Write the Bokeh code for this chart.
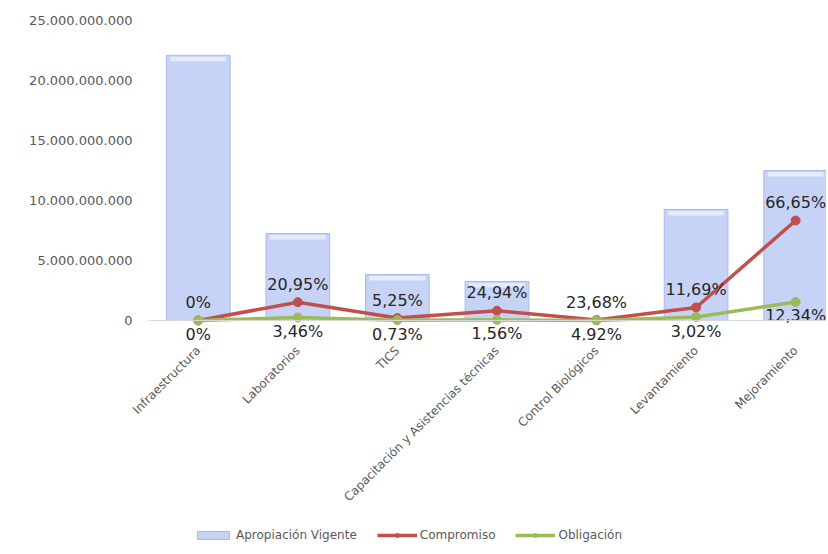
import numpy as np
from bokeh.plotting import figure
from bokeh.layouts import column
from bokeh.models import (Range1d, FixedTicker, CustomJSTickFormatter, Span,
                          Legend, LegendItem, ColumnDataSource)
from bokeh.embed import file_html
from bokeh.resources import INLINE

categories = ["Infraestructura", "Laboratorios", "TICS",
              "Capacitación y Asistencias técnicas", "Control Biológicos",
              "Levantamiento", "Mejoramiento"]
apropiacion = [22.1e9, 7.25e9, 3.83e9, 3.25e9, 0.15e9, 9.25e9, 12.5e9]
compromiso = [0.0, 1.52e9, 0.20e9, 0.81e9, 0.036e9, 1.08e9, 8.33e9]
obligacion = [0.0, 0.25e9, 0.028e9, 0.051e9, 0.007e9, 0.28e9, 1.54e9]
compromiso_pct = ["0%", "20,95%", "5,25%", "24,94%", "23,68%", "11,69%", "66,65%"]
obligacion_pct = ["0%", "3,46%", "0,73%", "1,56%", "4,92%", "3,02%", "12,34%"]
series_names = ["Apropiación Vigente", "Compromiso", "Obligación"]
y_ticks = [0, 5e9, 10e9, 15e9, 20e9, 25e9]

FONT = "DejaVu Sans"
BAR_FILL = "#C6D3F7"
BAR_LINE = "#AABAEA"
RED = "#C0504D"
GREEN = "#9BBB59"

xs = list(range(len(categories)))
apro = np.array(apropiacion)

src = ColumnDataSource(dict(x=xs, apro=apropiacion, comp=compromiso, obl=obligacion,
                            cpct=compromiso_pct, opct=obligacion_pct,
                            hl_top=np.maximum(apro - 0.12e9, 0),
                            hl_bot=np.maximum(apro - 0.5e9, 0)))

p = figure(width=826, height=524, output_backend="svg", toolbar_location=None,
           x_range=Range1d(-0.5, 6.31), y_range=Range1d(-1.67e9, 25e9),
           min_border_left=148, min_border_right=0, min_border_top=20,
           min_border_bottom=184)
p.outline_line_color = None
p.xgrid.visible = False
p.ygrid.visible = False

# x axis
p.xaxis.ticker = FixedTicker(ticks=xs)
p.xaxis.major_label_overrides = {i: c for i, c in zip(xs, categories)}
p.xaxis.major_label_orientation = np.pi / 4
p.xaxis.axis_line_color = None
p.xaxis.major_tick_line_color = None
p.xaxis.minor_tick_line_color = None
p.xaxis.major_label_standoff = 2
p.xaxis.major_label_text_font = FONT
p.xaxis.major_label_text_font_size = "12px"
p.xaxis.major_label_text_color = "#595959"

# y axis
p.yaxis.ticker = FixedTicker(ticks=y_ticks)
p.yaxis.formatter = CustomJSTickFormatter(
    code="return Math.round(tick).toString().replace(/\\B(?=(\\d{3})+(?!\\d))/g, '.');")
p.yaxis.axis_line_color = None
p.yaxis.major_tick_line_color = None
p.yaxis.minor_tick_line_color = None
p.yaxis.major_label_standoff = 10
p.yaxis.major_label_text_font = FONT
p.yaxis.major_label_text_font_size = "13px"
p.yaxis.major_label_text_color = "#595959"

# zero line
p.add_layout(Span(location=0, dimension="width", line_color="#D9D9D9", line_width=1))

p.vbar(x="x", top="apro", width=0.64, source=src,
       fill_color=BAR_FILL, line_color=BAR_LINE, line_width=1)
p.vbar(x="x", top="hl_top", bottom="hl_bot", width=0.56, source=src,
       fill_color="white", fill_alpha=0.55, line_color=None)

p.line("x", "comp", source=src, line_color=RED, line_width=3.5)
p.scatter("x", "comp", source=src, size=9, fill_color=RED, line_color=RED)
p.line("x", "obl", source=src, line_color=GREEN, line_width=3.5)
p.scatter("x", "obl", source=src, size=9, fill_color=GREEN, line_color=GREEN)

p.text("x", "comp", text="cpct", source=src, text_align="center",
       text_baseline="middle", y_offset=-18, text_font_size="16px",
       text_color="#262626", text_font={"value": FONT})
p.text("x", "obl", text="opct", source=src, text_align="center",
       text_baseline="middle", y_offset=14, text_font_size="16px",
       text_color="#262626", text_font={"value": FONT})

# legend strip (its frame is aligned with the main plot's frame);
# legend proxies hold one point each, placed outside the strip's visible range
lg = figure(width=826, height=28, output_backend="svg", toolbar_location=None,
            x_range=Range1d(0, 1), y_range=Range1d(0, 1),
            x_axis_location=None, y_axis_location=None, min_border=0)
lg.outline_line_color = None
lg.xgrid.visible = False
lg.ygrid.visible = False
hidden_x = [-10, -9]
hidden_y = [-10, -10]
lb = lg.vbar(x=hidden_x[:1], top=hidden_y[:1], width=0.1,
             fill_color=BAR_FILL, line_color=BAR_LINE)
r1 = lg.line(x=hidden_x, y=hidden_y, line_color=RED, line_width=3.5)
r2 = lg.scatter(x=hidden_x[:1], y=hidden_y[:1], size=6, fill_color=RED, line_color=RED)
g1 = lg.line(x=hidden_x, y=hidden_y, line_color=GREEN, line_width=3.5)
g2 = lg.scatter(x=hidden_x[:1], y=hidden_y[:1], size=6, fill_color=GREEN, line_color=GREEN)
legend = Legend(items=[LegendItem(label=series_names[0], renderers=[lb]),
                       LegendItem(label=series_names[1], renderers=[r1, r2]),
                       LegendItem(label=series_names[2], renderers=[g1, g2])],
                location=(45, 10), orientation="horizontal",
                glyph_width=40, glyph_height=10, label_standoff=3, spacing=20,
                padding=0, margin=0, border_line_color=None,
                background_fill_alpha=0,
                label_text_font=FONT, label_text_font_size="12px",
                label_text_color="#595959")
lg.add_layout(legend)

open("out.html", "w").write(file_html(column(p, lg), INLINE))
